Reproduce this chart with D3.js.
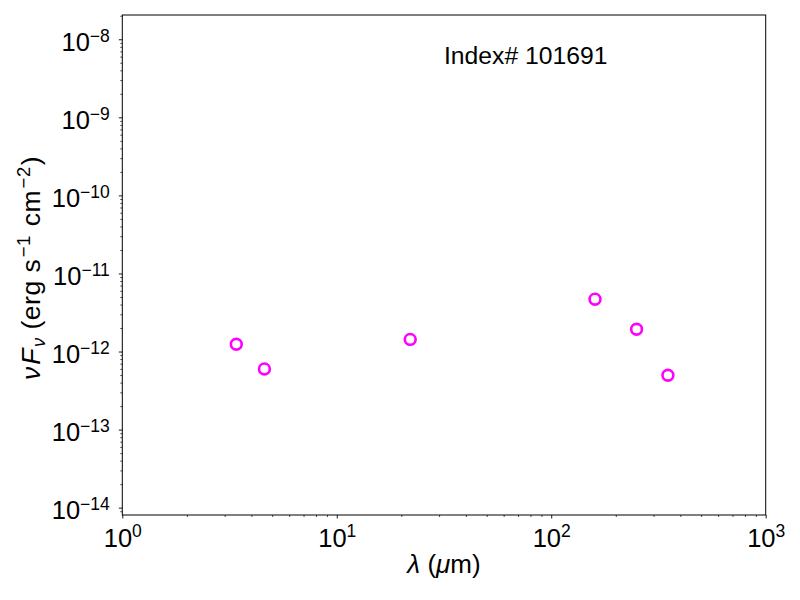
<!DOCTYPE html>
<html>
<head>
<meta charset="utf-8">
<script src="https://cdn.jsdelivr.net/npm/d3@7"></script>
<style>
html, body { margin: 0; padding: 0; background: #fff; }
svg { display: block; font-family: "Liberation Sans", Arial, Helvetica, sans-serif; }
</style>
</head>
<body>
<svg id="chart" width="800" height="600"></svg>
<script>
// Data (wavelength in micron, nuFnu in erg s^-1 cm^-2)
const wavelengths = [3.4, 4.6, 22, 160, 250, 350];
const fluxes = [1.24e-12, 5.98e-13, 1.43e-12, 4.68e-12, 1.93e-12, 4.97e-13];
const xMajorTicks = [1, 10, 100, 1000];
const xTickExponents = ["0", "1", "2", "3"];
const yMajorTicks = [1e-14, 1e-13, 1e-12, 1e-11, 1e-10, 1e-9, 1e-8];
const yTickExponents = ["\u221214", "\u221213", "\u221212", "\u221211", "\u221210", "\u22129", "\u22128"];
const annotation = "Index# 101691";

const W = 800, H = 600;
const margin = { left: 122.3, right: 34.3, top: 15, bottom: 85 };
const svg = d3.select("#chart");

const x = d3.scaleLog().domain([1, 1000]).range([margin.left, W - margin.right]);
const y = d3.scaleLog().domain([Math.pow(10, -14.094), Math.pow(10, -7.689)]).range([H - margin.bottom, margin.top]);

function minorTicks(scale) {
  const [a, b] = scale.domain();
  const out = [];
  for (let e = Math.floor(Math.log10(a)) - 1; e <= Math.ceil(Math.log10(b)); e++) {
    for (let m = 2; m <= 9; m++) {
      const v = m * Math.pow(10, e);
      if (v >= a && v <= b) out.push(v);
    }
  }
  return out;
}

// Minor ticks
svg.append("g")
  .attr("transform", `translate(0,${H - margin.bottom})`)
  .call(d3.axisBottom(x).tickValues(minorTicks(x)).tickSize(2).tickFormat(""))
  .call(g => g.select(".domain").remove())
  .call(g => g.selectAll("line").attr("stroke", "#000").attr("stroke-width", 0.7));
svg.append("g")
  .attr("transform", `translate(${margin.left},0)`)
  .call(d3.axisLeft(y).tickValues(minorTicks(y)).tickSize(2).tickFormat(""))
  .call(g => g.select(".domain").remove())
  .call(g => g.selectAll("line").attr("stroke", "#000").attr("stroke-width", 0.7));

// Major ticks
const xAxis = svg.append("g")
  .attr("transform", `translate(0,${H - margin.bottom})`)
  .call(d3.axisBottom(x).tickValues(xMajorTicks).tickSize(3.5).tickFormat(""));
xAxis.select(".domain").remove();
xAxis.selectAll("line").attr("stroke", "#000").attr("stroke-width", 0.9);
xAxis.selectAll(".tick").each(function (d, i) {
  const t = d3.select(this).append("text")
    .attr("y", 31.7)
    .attr("text-anchor", "middle")
    .attr("fill", "#000")
    .style("font-size", "25.5px");
  t.append("tspan").text("10");
  t.append("tspan").attr("dy", -10).style("font-size", "17.5px").text(xTickExponents[i]);
});

const yAxis = svg.append("g")
  .attr("transform", `translate(${margin.left},0)`)
  .call(d3.axisLeft(y).tickValues(yMajorTicks).tickSize(3.5).tickFormat(""));
yAxis.select(".domain").remove();
yAxis.selectAll("line").attr("stroke", "#000").attr("stroke-width", 0.9);
yAxis.selectAll(".tick").each(function (d, i) {
  const t = d3.select(this).append("text")
    .attr("x", -12.5)
    .attr("y", 11)
    .attr("text-anchor", "end")
    .attr("fill", "#000")
    .style("font-size", "25.5px");
  t.append("tspan").text("10");
  t.append("tspan").attr("dy", -9).style("font-size", "17.5px").text(yTickExponents[i]);
});

// Frame
svg.append("rect")
  .attr("x", margin.left).attr("y", margin.top)
  .attr("width", W - margin.left - margin.right)
  .attr("height", H - margin.top - margin.bottom)
  .attr("fill", "none").attr("stroke", "#000").attr("stroke-width", 1);

// Points
svg.append("g").selectAll("circle")
  .data(wavelengths.map((w, i) => ({ w, f: fluxes[i] })))
  .join("circle")
  .attr("cx", d => x(d.w))
  .attr("cy", d => y(d.f))
  .attr("r", 5.4)
  .attr("fill", "none")
  .attr("stroke", "#ff00ff")
  .attr("stroke-width", 2.6);

// Annotation
svg.append("text")
  .attr("x", 444).attr("y", 63.5)
  .attr("fill", "#000")
  .style("font-size", "24.7px")
  .text(annotation);

// X label
const xl = svg.append("text")
  .attr("x", (margin.left + W - margin.right) / 2)
  .attr("y", 573)
  .attr("text-anchor", "middle")
  .attr("fill", "#000")
  .style("font-size", "26px");
xl.append("tspan").style("font-style", "italic").text("\u03bb");
xl.append("tspan").text(" (");
xl.append("tspan").style("font-style", "italic").text("\u03bc");
xl.append("tspan").text("m)");

// Y label
const yl = svg.append("text")
  .attr("transform", `translate(40,${(margin.top + H - margin.bottom) / 2 + 3}) rotate(-90)`)
  .attr("text-anchor", "middle")
  .attr("fill", "#000")
  .style("font-size", "26.5px")
  .style("letter-spacing", "0.5px");
yl.append("tspan").style("font-style", "italic").text("\u03bd");
yl.append("tspan").attr("dx", 1.5).style("font-style", "italic").text("F");
yl.append("tspan").attr("dy", 5).attr("dx", 1).style("font-style", "italic").style("font-size", "18.5px").text("\u03bd");
yl.append("tspan").attr("dy", -5).text(" (erg s");
yl.append("tspan").attr("dy", -10).attr("dx", 1.5).style("font-size", "18.5px").text("\u22121");
yl.append("tspan").attr("dy", 10).attr("dx", 1).text(" cm");
yl.append("tspan").attr("dy", -10).attr("dx", 1.5).style("font-size", "18.5px").text("\u22122");
yl.append("tspan").attr("dy", 10).attr("dx", 1).text(")");
</script>
</body>
</html>
